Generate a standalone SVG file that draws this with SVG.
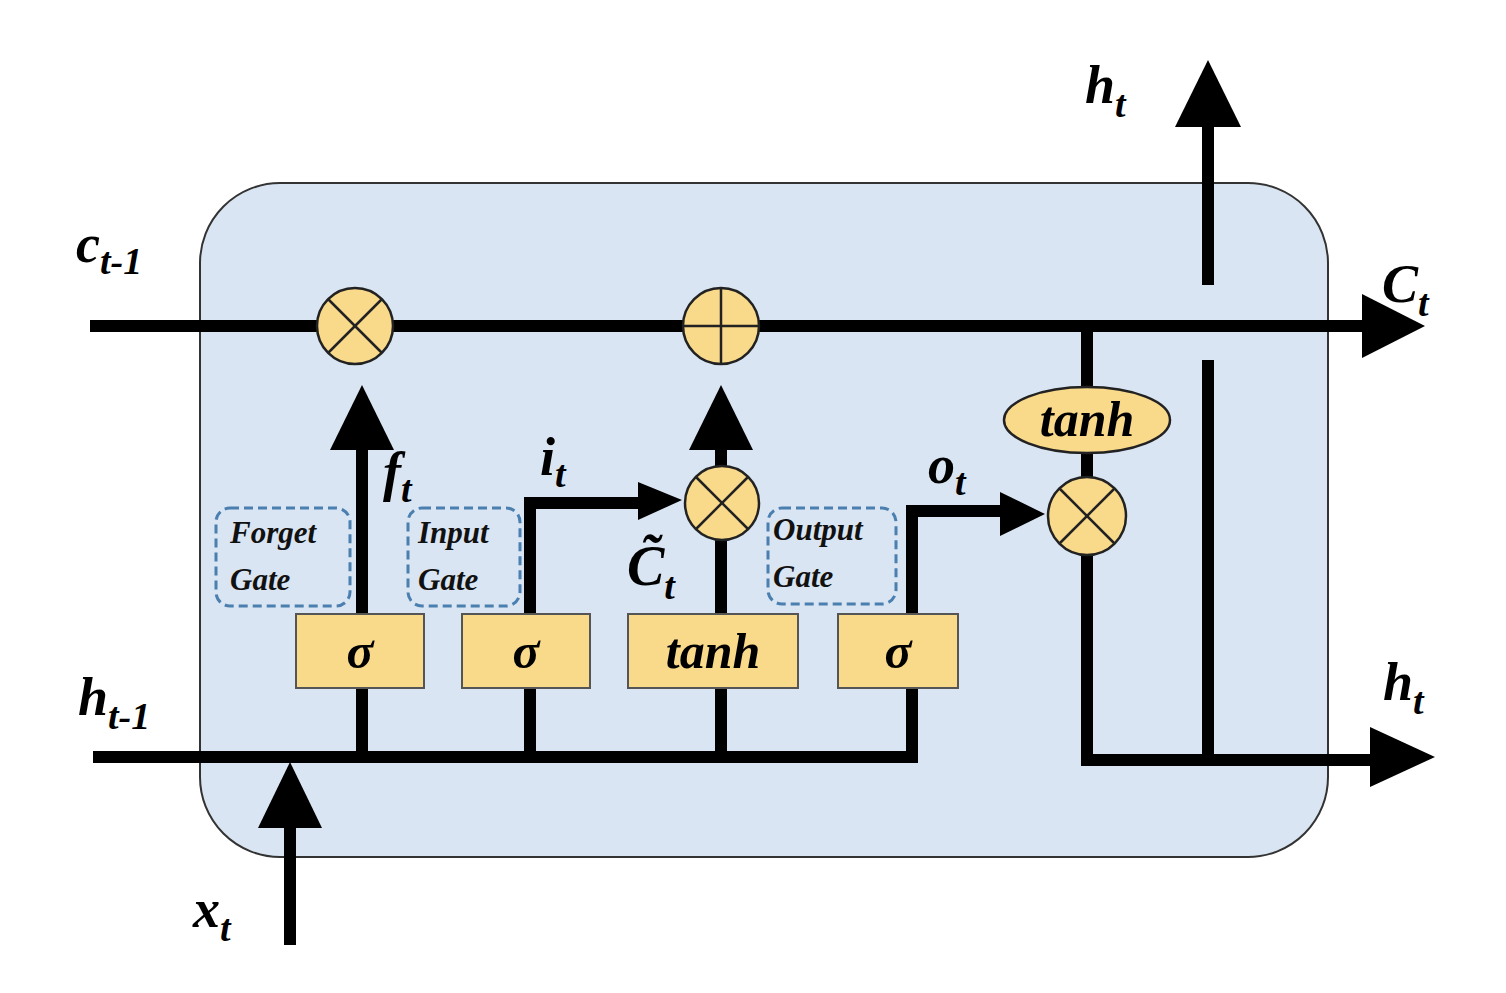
<svg xmlns="http://www.w3.org/2000/svg" width="1506" height="993" viewBox="0 0 1506 993">
<defs>
<style>
.ln{stroke:#000;stroke-width:12;fill:none}
.ah{fill:#000}
.op{fill:#f9d98a;stroke:#222;stroke-width:2.5}
.x{stroke:#222;stroke-width:2.5}
.bx{fill:#f9d98a;stroke:#555;stroke-width:2}
.dash{fill:none;stroke:#4a7fb0;stroke-width:3;stroke-dasharray:9 5}
.t{font-family:"Liberation Serif","Times New Roman",Times,serif;font-style:italic;font-weight:700;fill:#000}
.g{font-family:"Liberation Serif","Times New Roman",Times,serif;font-style:italic;font-weight:700;font-size:31px;fill:#111}
</style>
</defs>
<rect width="1506" height="993" fill="#fff"/>
<rect id="cell" x="200" y="183" width="1128" height="674" rx="80" fill="#d9e5f2" stroke="#333" stroke-width="2"/>
<g id="connectors">
<line class="ln" x1="90" y1="326" x2="1365" y2="326"/>
<polygon class="ah" points="1362,294 1425,326 1362,358"/>
<line class="ln" x1="93" y1="757" x2="918" y2="757"/>
<polyline class="ln" points="912,757 912,511 1005,511"/>
<polygon class="ah" points="1000,492 1045,514 1000,536"/>
<polyline class="ln" points="530,757 530,503 645,503"/>
<polygon class="ah" points="638,482 682,500 638,520"/>
<line class="ln" x1="362" y1="757" x2="362" y2="445"/>
<polygon class="ah" points="330,450 362,385 394,450"/>
<line class="ln" x1="721" y1="757" x2="721" y2="445"/>
<polygon class="ah" points="689,450 721,385 753,450"/>
<polyline class="ln" points="1087,326 1087,760 1375,760"/>
<polygon class="ah" points="1370,727 1435,757 1370,787"/>
<line class="ln" x1="1208" y1="757" x2="1208" y2="360"/>
<line class="ln" x1="1208" y1="285" x2="1208" y2="120"/>
<polygon class="ah" points="1175,127 1208,60 1241,127"/>
<line class="ln" x1="290" y1="945" x2="290" y2="820"/>
<polygon class="ah" points="258,828 290,762 322,828"/>
</g>
<g id="mult1"><circle class="op" cx="355" cy="326" r="38"/><line class="x" x1="328" y1="299" x2="382" y2="353"/><line class="x" x1="382" y1="299" x2="328" y2="353"/></g>
<g id="add"><circle class="op" cx="721" cy="326" r="38"/><line class="x" x1="683" y1="326" x2="759" y2="326"/><line class="x" x1="721" y1="288" x2="721" y2="364"/></g>
<g id="mult2"><circle class="op" cx="722" cy="503" r="37"/><line class="x" x1="696" y1="477" x2="748" y2="529"/><line class="x" x1="748" y1="477" x2="696" y2="529"/></g>
<g id="mult3"><circle class="op" cx="1087" cy="516" r="39"/><line class="x" x1="1059" y1="488" x2="1115" y2="544"/><line class="x" x1="1115" y1="488" x2="1059" y2="544"/></g>
<g id="tanh2"><ellipse class="op" cx="1087" cy="420" rx="83" ry="33"/><text class="t" x="1087" y="436" font-size="50" text-anchor="middle">tanh</text></g>
<g id="sig1"><rect class="bx" x="296" y="614" width="128" height="74"/><text class="t" x="360" y="668" font-size="50" text-anchor="middle">σ</text></g>
<g id="sig2"><rect class="bx" x="462" y="614" width="128" height="74"/><text class="t" x="526" y="668" font-size="50" text-anchor="middle">σ</text></g>
<g id="tanh1"><rect class="bx" x="628" y="614" width="170" height="74"/><text class="t" x="713" y="668" font-size="50" text-anchor="middle">tanh</text></g>
<g id="sig3"><rect class="bx" x="838" y="614" width="120" height="74"/><text class="t" x="898" y="668" font-size="50" text-anchor="middle">σ</text></g>
<g id="forget"><rect class="dash" x="216" y="508" width="134" height="98" rx="14"/><text class="g" x="230" y="543">Forget</text><text class="g" x="230" y="590">Gate</text></g>
<g id="input"><rect class="dash" x="408" y="508" width="112" height="98" rx="14"/><text class="g" x="418" y="543">Input</text><text class="g" x="418" y="590">Gate</text></g>
<g id="output"><rect class="dash" x="768" y="508" width="128" height="96" rx="14"/><text class="g" x="773" y="540">Output</text><text class="g" x="773" y="587">Gate</text></g>
<g id="labels">
<text class="t" x="76" y="262" font-size="54">c<tspan font-size="38" dy="12">t-1</tspan></text>
<text class="t" x="1085" y="103" font-size="54">h<tspan font-size="38" dy="14">t</tspan></text>
<text class="t" x="1382" y="302" font-size="54">C<tspan font-size="38" dy="14">t</tspan></text>
<text class="t" x="78" y="715" font-size="54">h<tspan font-size="38" dy="14">t-1</tspan></text>
<text class="t" x="1383" y="700" font-size="54">h<tspan font-size="38" dy="14">t</tspan></text>
<text class="t" x="193" y="927" font-size="54">x<tspan font-size="38" dy="14">t</tspan></text>
<text class="t" x="383" y="490" font-size="54">f<tspan font-size="38" dy="12">t</tspan></text>
<text class="t" x="540" y="475" font-size="54">i<tspan font-size="38" dy="12">t</tspan></text>
<text class="t" x="928" y="483" font-size="54">o<tspan font-size="38" dy="12">t</tspan></text>
<text class="t" x="627" y="585" font-size="56">C̃<tspan font-size="38" dy="14">t</tspan></text>
</g>
</svg>
